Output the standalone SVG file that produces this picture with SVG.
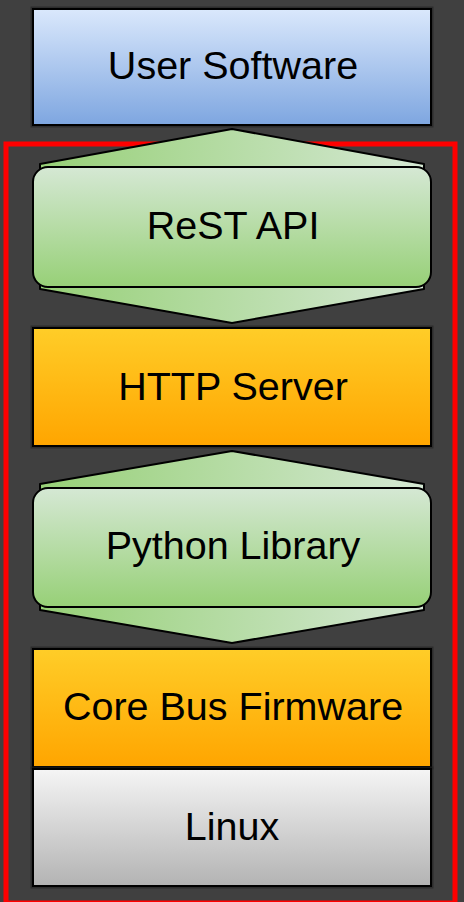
<svg xmlns="http://www.w3.org/2000/svg" width="464" height="902" viewBox="0 0 464 902">
  <defs>
    <linearGradient id="gBlue" x1="0" y1="0" x2="0" y2="1">
      <stop offset="0" stop-color="#dae8fc"/>
      <stop offset="1" stop-color="#7ea6e0"/>
    </linearGradient>
    <linearGradient id="gGreen" x1="0" y1="0" x2="0" y2="1">
      <stop offset="0" stop-color="#d5e8d4"/>
      <stop offset="1" stop-color="#97d077"/>
    </linearGradient>
    <linearGradient id="gGreenH" x1="0" y1="0" x2="1" y2="0">
      <stop offset="0" stop-color="#97d077"/>
      <stop offset="1" stop-color="#d5e8d4"/>
    </linearGradient>
    <linearGradient id="gOrange" x1="0" y1="0" x2="0" y2="1">
      <stop offset="0" stop-color="#ffcd28"/>
      <stop offset="1" stop-color="#ffa500"/>
    </linearGradient>
    <linearGradient id="gGray" x1="0" y1="0" x2="0" y2="1">
      <stop offset="0" stop-color="#f5f5f5"/>
      <stop offset="1" stop-color="#b3b3b3"/>
    </linearGradient>
  </defs>
  <style>
    .halo { fill: none; stroke: #222; stroke-opacity: 0.6; stroke-width: 5; }
    .box { stroke: #000; stroke-width: 2; }
    .hex { fill: url(#gGreenH); stroke: #000; stroke-width: 2; stroke-linejoin: round; }
    .lbl { font-family: "Liberation Sans", Arial, sans-serif; font-size: 39.5px; fill: #000; text-anchor: middle; }
  </style>
  <rect x="0" y="0" width="464" height="902" fill="#404040"/>

  <g id="frame">
    <rect x="6" y="144" width="449" height="759" fill="none" stroke="#ff0000" stroke-width="5"/>
  </g>

  <g id="user-software">
    <rect class="halo" x="33" y="9" width="398" height="116"/>
    <rect class="box" x="33" y="9" width="398" height="116" fill="url(#gBlue)"/>
    <text class="lbl" x="233" y="79">User Software</text>
  </g>

  <g id="rest-api">
    <polygon class="hex" points="232,129 424,164 424,289 232,323 40,289 40,164"/>
    <rect class="box" x="33" y="167" width="398" height="120" rx="15" ry="15" fill="url(#gGreen)"/>
    <text class="lbl" x="233" y="239">ReST API</text>
  </g>

  <g id="http-server">
    <rect class="halo" x="33" y="328" width="398" height="118"/>
    <rect class="box" x="33" y="328" width="398" height="118" fill="url(#gOrange)"/>
    <text class="lbl" x="233" y="400">HTTP Server</text>
  </g>

  <g id="python-library">
    <polygon class="hex" points="232,451 424,484 424,610 232,643 40,610 40,484"/>
    <rect class="box" x="33" y="488" width="398" height="119" rx="15" ry="15" fill="url(#gGreen)"/>
    <text class="lbl" x="233" y="559">Python Library</text>
  </g>

  <g id="core-bus-firmware">
    <rect class="halo" x="33" y="649" width="398" height="118"/>
    <rect class="box" x="33" y="649" width="398" height="118" fill="url(#gOrange)"/>
    <text class="lbl" x="233" y="720">Core Bus Firmware</text>
  </g>

  <g id="linux">
    <rect class="halo" x="33" y="769" width="398" height="117"/>
    <rect class="box" x="33" y="769" width="398" height="117" fill="url(#gGray)"/>
    <text class="lbl" x="232" y="840">Linux</text>
  </g>

  <g id="connectors"/>
</svg>
